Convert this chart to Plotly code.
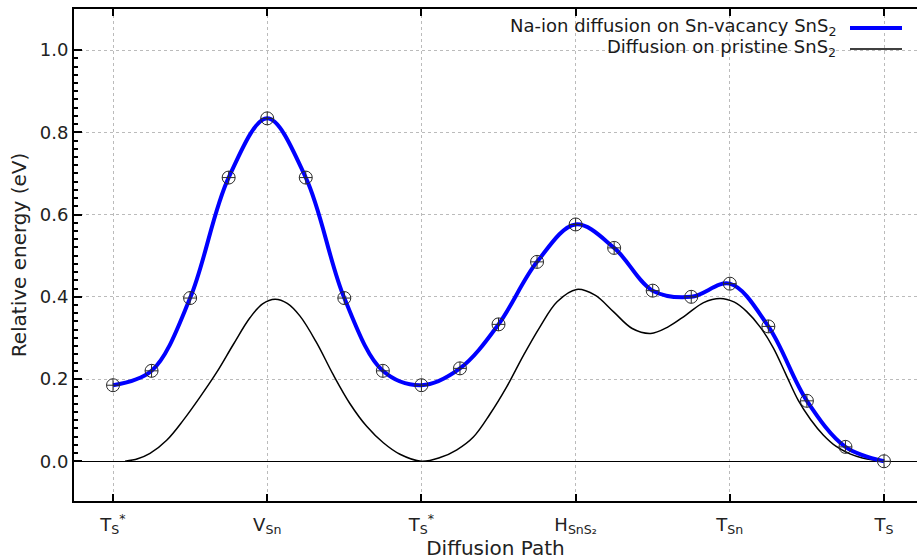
import plotly.graph_objects as go

# ---- data ----
path_x = [0.0, 0.25, 0.5, 0.75, 1.0, 1.25, 1.5, 1.75, 2.0, 2.25, 2.5,
          2.75, 3.0, 3.25, 3.5, 3.75, 4.0, 4.25, 4.5, 4.75, 5.0]
vacancy_e = [0.185, 0.220, 0.397, 0.690, 0.834, 0.690, 0.397, 0.220, 0.185,
             0.226, 0.333, 0.485, 0.576, 0.519, 0.415, 0.400, 0.432, 0.328,
             0.147, 0.035, 0.0]

pristine_x = [0.078, 0.16, 0.24, 0.348, 0.456, 0.564, 0.672, 0.780, 0.888, 0.97,
              1.051, 1.13, 1.213, 1.321, 1.429, 1.537, 1.645, 1.753, 1.861,
              2.0, 2.121, 2.23, 2.337, 2.445, 2.553, 2.661, 2.769, 2.88, 3.007,
              3.126, 3.245, 3.367, 3.487, 3.60, 3.713, 3.83, 3.937, 4.03, 4.11,
              4.196, 4.282, 4.363, 4.444, 4.525, 4.606, 4.69, 4.779, 4.86, 4.93, 5.0]
pristine_e = [0.0, 0.006, 0.019, 0.051, 0.100, 0.156, 0.216, 0.284, 0.349, 0.383,
              0.394, 0.384, 0.353, 0.288, 0.210, 0.140, 0.085, 0.045, 0.017,
              0.0, 0.009, 0.028, 0.059, 0.115, 0.181, 0.257, 0.327, 0.388, 0.418,
              0.404, 0.364, 0.323, 0.311, 0.327, 0.355, 0.386, 0.396, 0.387, 0.364,
              0.327, 0.276, 0.212, 0.148, 0.101, 0.064, 0.036, 0.018, 0.008, 0.003, 0.0]

tick_vals = [0, 1, 2, 3, 4, 5]
tick_text = ["T<sub>S</sub><sup>*</sup>", "V<sub>Sn</sub>", "T<sub>S</sub><sup>*</sup>",
             "H<sub>SnS₂</sub>", "T<sub>Sn</sub>", "T<sub>S</sub>"]

legend_names = ["Na-ion diffusion on Sn-vacancy SnS<sub>2</sub>",
                "Diffusion on pristine SnS<sub>2</sub>"]
legend_colors = ["#0000ff", "#000000"]
legend_widths = [4, 1.5]

FONT = "DejaVu Sans"

fig = go.Figure()
fig.add_trace(go.Scatter(x=pristine_x, y=pristine_e, mode="lines",
                         line=dict(color="#000000", width=1.5, shape="spline", smoothing=1.0),
                         showlegend=False, hoverinfo="skip"))
fig.add_trace(go.Scatter(x=path_x, y=vacancy_e, mode="lines",
                         line=dict(color="#0000ff", width=4, shape="spline", smoothing=1.0),
                         showlegend=False))
fig.add_trace(go.Scatter(x=path_x, y=vacancy_e, mode="markers",
                         marker=dict(symbol="circle-cross-open", size=13,
                                     color="#2a2a2a", line=dict(width=1, color="#2a2a2a")),
                         showlegend=False))

W, H = 917, 560
ml, mr, mt, mb = 74, 0, 9, 59
pw = W - ml - mr
ph = H - mt - mb

def px2paper_x(px):
    return (px - ml) / pw

def px2paper_y(py):
    return (H - mb - py) / ph

# legend drawn on the right side of the text, as in the reference
leg_y = [27, 48]
for name, col, lw, py in zip(legend_names, legend_colors, legend_widths, leg_y):
    fig.add_annotation(x=px2paper_x(838), y=px2paper_y(py), xref="paper", yref="paper",
                       text=name, showarrow=False, xanchor="right", yanchor="middle",
                       font=dict(family=FONT, size=18, color="#1a1a1a"))
    fig.add_shape(type="line", xref="paper", yref="paper",
                  x0=px2paper_x(850), x1=px2paper_x(902),
                  y0=px2paper_y(py + 1), y1=px2paper_y(py + 1),
                  line=dict(color=col, width=lw))

minor_vals = [round(i * 0.02, 2) for i in range(51) if i % 10 != 0]

fig.update_layout(
    width=W, height=H,
    margin=dict(l=ml, r=mr, t=mt, b=mb),
    paper_bgcolor="white", plot_bgcolor="white",
    font=dict(family=FONT, size=18, color="#222222"),
    showlegend=False,
)
fig.update_xaxes(
    range=[-0.253, 5.214],
    tickmode="array", tickvals=tick_vals, ticktext=tick_text,
    ticks="inside", ticklen=7, tickwidth=1.5, tickcolor="black",
    showline=True, linewidth=2, linecolor="black", mirror="ticks",
    showgrid=True, gridcolor="#bbbbbb", griddash="dot", gridwidth=1,
    zeroline=False,
    ticklabelstandoff=6,
    tickfont=dict(family=FONT, size=18, color="#222222"),
    title=dict(text="Diffusion Path", font=dict(family=FONT, size=20, color="#222222"), standoff=4),
)
fig.update_yaxes(
    range=[-0.0966, 1.1],
    tickmode="linear", tick0=0, dtick=0.2, tickformat=".1f",
    ticks="inside", ticklen=8, tickwidth=1.5, tickcolor="black",
    minor=dict(tickmode="array", tickvals=minor_vals, ticks="inside", ticklen=4,
               tickcolor="black", showgrid=False),
    showline=True, linewidth=2, linecolor="black", mirror=False,
    showgrid=True, gridcolor="#bbbbbb", griddash="dot", gridwidth=1,
    zeroline=True, zerolinecolor="black", zerolinewidth=1,
    tickfont=dict(family=FONT, size=18, color="#222222"),
    title=dict(text="Relative energy (eV)", font=dict(family=FONT, size=20, color="#222222"), standoff=8),
)

fig.write_html("out.html")
